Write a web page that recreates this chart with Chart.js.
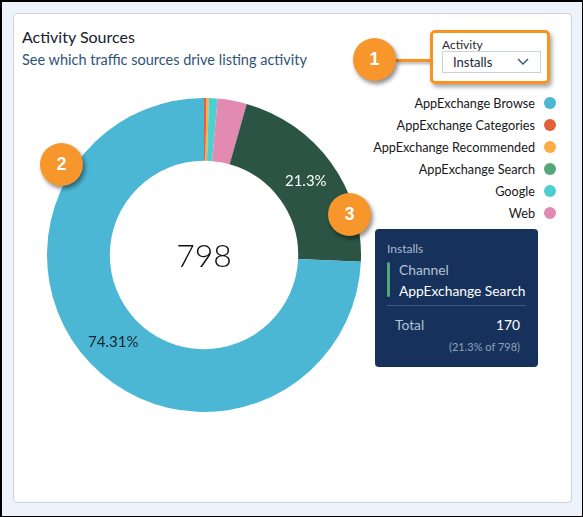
<!DOCTYPE html>
<html>
<head>
<meta charset="utf-8">
<script src="https://cdn.jsdelivr.net/npm/chart.js@4"></script>
<style>
  html, body { margin: 0; padding: 0; }
  body { width: 583px; height: 517px; font-family: Lato, "Noto Sans", sans-serif; }
  #page { position: relative; width: 583px; height: 517px; background: #eef2fa; overflow: hidden; }
  #frame { position: absolute; left: 0; top: 0; width: 583px; height: 517px; box-sizing: border-box; border: 1px solid #000; border-top-width: 2px; border-left-width: 2px; pointer-events: none; }
  #card { position: absolute; left: 13px; top: 13px; width: 559px; height: 490px; box-sizing: border-box; background: #fff; border: 1px solid #c9d3df; border-radius: 4px; }
  .abs { position: absolute; white-space: nowrap; line-height: normal; }
  #title { left: 22px; top: 27px; font-size: 16px; color: #16202e; }
  #subtitle { left: 22px; top: 51px; font-size: 14.5px; color: #305378; }
  #chartBox { position: absolute; left: 47px; top: 98px; width: 314px; height: 314px; }
  #center { left: 47px; top: 235px; width: 314px; text-align: center; font-size: 32px; font-weight: 300; color: #111; }
  #legend { position: absolute; right: 27px; top: 92px; }
  .row { height: 22px; display: flex; align-items: center; justify-content: flex-end; font-size: 12.7px; color: #181818; }
  .dot { width: 12px; height: 12px; border-radius: 50%; margin-left: 9px; }
  #hl { position: absolute; left: 430px; top: 30px; width: 114px; height: 48px; border: 3px solid #f7931e; border-radius: 5px; box-shadow: 2px 3px 4px rgba(0,0,0,0.35); }
  #link { position: absolute; left: 396px; top: 59px; width: 36px; height: 3px; background: #f7931e; box-shadow: 1px 2px 3px rgba(0,0,0,0.3); }
  #actLabel { left: 442px; top: 37px; font-size: 12px; color: #2b2b2b; }
  #select { position: absolute; left: 442px; top: 51px; width: 97px; height: 20px; border: 1px solid #c9d3df; font-size: 13px; color: #1a2a3a; }
  #select span { position: absolute; left: 10px; top: 2px; }
  #select svg { position: absolute; right: 11px; top: 6px; }
  .badge { position: absolute; width: 43px; height: 43px; border-radius: 50%; background: #f7962b; color: #fff; font-weight: bold; font-size: 18px; text-align: center; line-height: 43px; box-shadow: 2px 3px 4px rgba(0,0,0,0.45); font-family: "Liberation Sans", Arial, sans-serif; }
  #tip { position: absolute; left: 375px; top: 229px; width: 163px; height: 138px; background: #16325c; border-radius: 4px; color: #fff; }
  #tip .abs { font-size: 13.8px; }
</style>
</head>
<body>
<div id="page">
  <div id="card"></div>
  <div class="abs" id="title">Activity Sources</div>
  <div class="abs" id="subtitle">See which traffic sources drive listing activity</div>
  <div id="chartBox"><canvas id="donut"></canvas></div>
  <div class="abs" id="center"></div>
  <div id="legend"></div>
  <div id="link"></div>
  <div id="hl"></div>
  <div class="abs" id="actLabel">Activity</div>
  <div id="select"><span>Installs</span>
    <svg width="12" height="8" viewBox="0 0 12 8"><polyline points="1,1 6,6 11,1" fill="none" stroke="#3a5a7c" stroke-width="1.5"/></svg>
  </div>
  <div class="badge" style="left:353px; top:38px;">1</div>
  <div class="badge" style="left:40px; top:143px;">2</div>
  <div class="badge" style="left:328px; top:193px;">3</div>
  <div id="tip"></div>
  <div id="frame"></div>
</div>
<script>
var sources = ['AppExchange Browse', 'AppExchange Categories', 'AppExchange Recommended', 'AppExchange Search', 'Google', 'Web'];
var installs = [593, 2, 2, 170, 7, 24];
var dotColors = ['#4bb7d5', '#e3603c', '#fbac45', '#54a77b', '#4ccfd0', '#e28ab2'];
var sliceColors = ['#4bb7d5', '#e3603c', '#fbac45', '#2b5444', '#4ccfd0', '#e28ab2'];
var metric = 'Installs';
var selected = 'AppExchange Search';

var total = installs.reduce(function (a, b) { return a + b; }, 0);

function pct(v) {
  return parseFloat((v / total * 100).toFixed(2)) + '%';
}

// slices are drawn smallest first, clockwise from the top
var order = sources.map(function (s, i) { return i; }).sort(function (a, b) { return installs[a] - installs[b]; });

var legend = document.getElementById('legend');
sources.forEach(function (s, i) {
  var row = document.createElement('div');
  row.className = 'row';
  row.innerHTML = '<span>' + s + '</span><span class="dot" style="background:' + dotColors[i] + '"></span>';
  legend.appendChild(row);
});

document.getElementById('center').textContent = total;

var si = sources.indexOf(selected);
document.getElementById('tip').innerHTML =
  '<div class="abs" style="left:12px;top:12px;font-size:12px;color:#a9b8c9">' + metric + '</div>' +
  '<div class="abs" style="left:12px;top:33px;width:3px;height:35px;background:#54a77b;border-radius:2px"></div>' +
  '<div class="abs" style="left:24px;top:32px;color:#b4c2d2">Channel</div>' +
  '<div class="abs" style="left:24px;top:53px;color:#fff">' + selected + '</div>' +
  '<div class="abs" style="left:12px;top:76px;width:139px;height:1px;background:#3b5a82"></div>' +
  '<div class="abs" style="left:20px;top:87px;color:#b4c2d2">Total</div>' +
  '<div class="abs" style="right:18px;top:87px;color:#fff">' + installs[si] + '</div>' +
  '<div class="abs" style="right:18px;top:111px;font-size:11px;color:#8fa1b6">(' + (installs[si] / total * 100).toFixed(1) + '% of ' + total + ')</div>';

var sliceLabels = {
  id: 'sliceLabels',
  afterDatasetsDraw: function (chart) {
    var ctx = chart.ctx;
    var meta = chart.getDatasetMeta(0);
    meta.data.forEach(function (arc, i) {
      var k = order[i];
      if (installs[k] / total < 0.1) return;
      var p = arc.tooltipPosition();
      var txt = k === si ? (installs[k] / total * 100).toFixed(1) + '%' : pct(installs[k]);
      ctx.save();
      ctx.font = '15px Lato, "Noto Sans", sans-serif';
      ctx.fillStyle = k === si ? '#ffffff' : '#16202e';
      ctx.textAlign = 'center';
      ctx.textBaseline = 'middle';
      ctx.fillText(txt, p.x, p.y);
      ctx.restore();
    });
  }
};

new Chart(document.getElementById('donut').getContext('2d'), {
  type: 'doughnut',
  data: {
    labels: order.map(function (k) { return sources[k]; }),
    datasets: [{
      data: order.map(function (k) { return installs[k]; }),
      backgroundColor: order.map(function (k) { return sliceColors[k]; }),
      borderWidth: 0,
      hoverBorderWidth: 0,
      hoverOffset: 0
    }]
  },
  options: {
    responsive: true,
    maintainAspectRatio: false,
    animation: false,
    events: [],
    cutout: '60%',
    layout: { padding: 0 },
    plugins: {
      legend: { display: false },
      tooltip: { enabled: false }
    }
  },
  plugins: [sliceLabels]
});
</script>
</body>
</html>
